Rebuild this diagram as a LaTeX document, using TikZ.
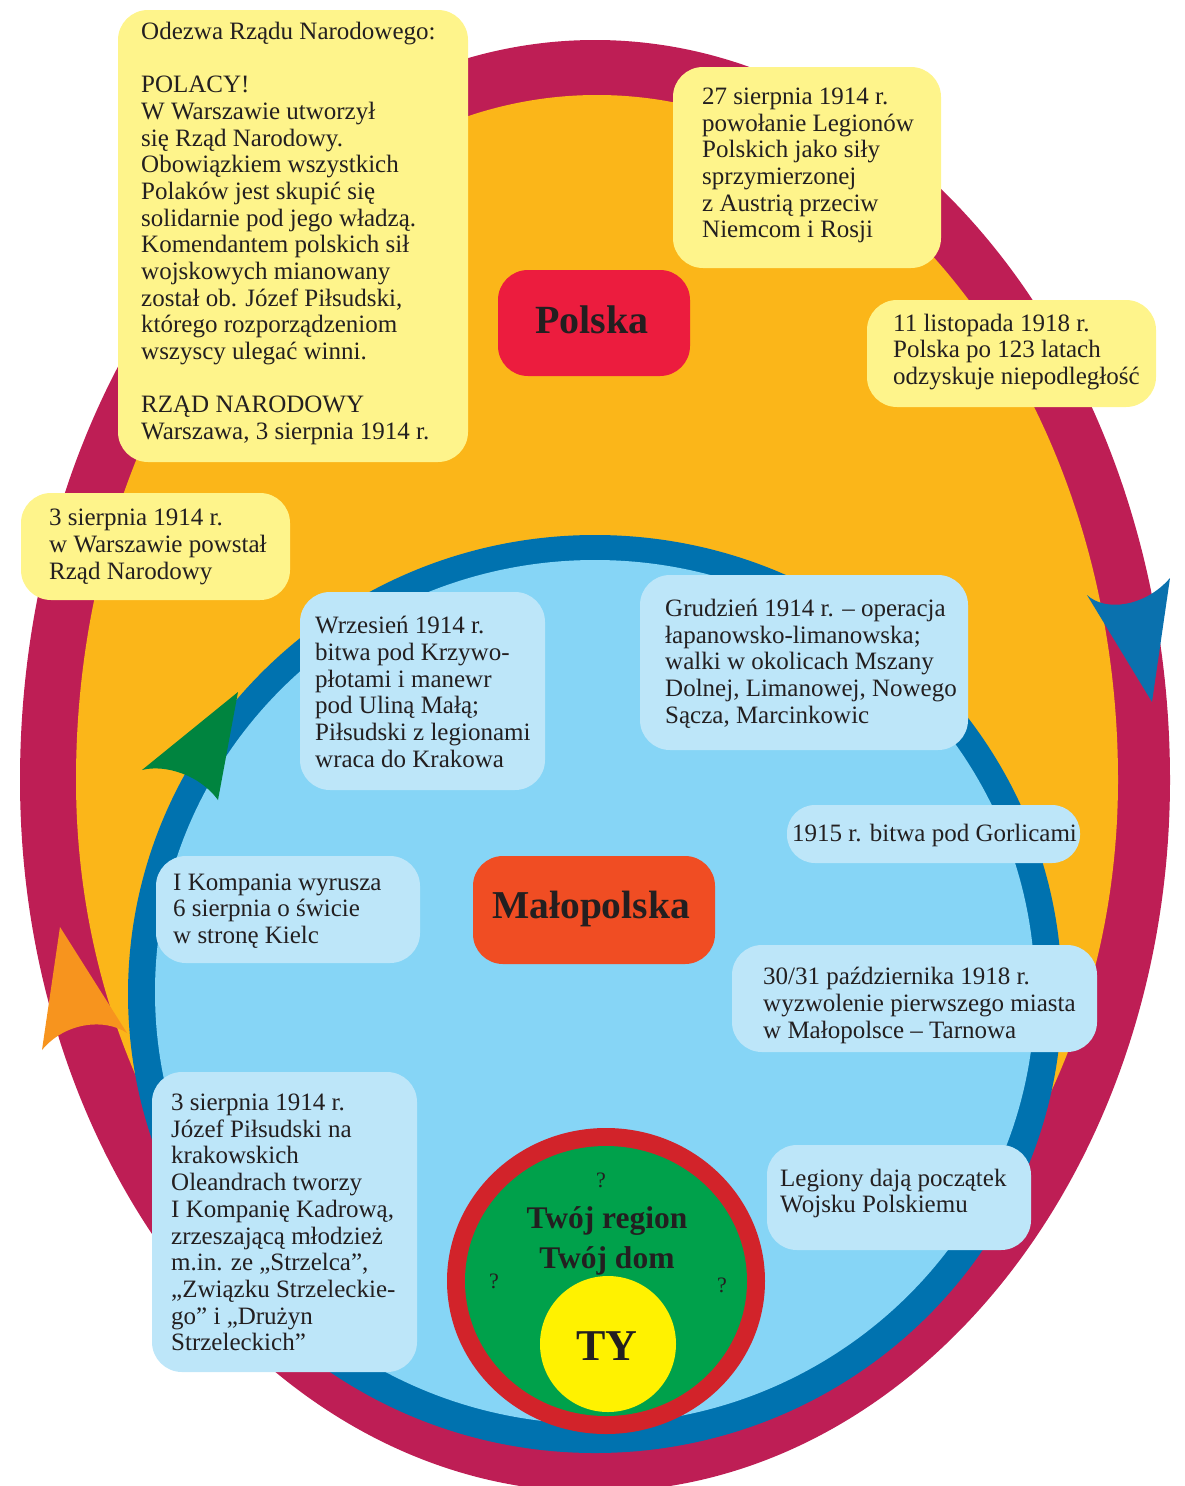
\documentclass[tikz,border=0pt]{standalone}
\usepackage{fontspec}
\setmainfont{Liberation Serif}
\definecolor{crimson}{HTML}{BE1E55}
\definecolor{eggorange}{HTML}{FBB619}
\definecolor{dblue}{HTML}{0072AF}
\definecolor{lblue}{HTML}{86D5F6}
\definecolor{boxblue}{HTML}{BDE6F9}
\definecolor{boxyellow}{HTML}{FEF48B}
\definecolor{polred}{HTML}{EC1C3E}
\definecolor{malored}{HTML}{F04D23}
\definecolor{ringred}{HTML}{D2232A}
\definecolor{ringgreen}{HTML}{00A14B}
\definecolor{tyyellow}{HTML}{FFF200}
\definecolor{arrgreen}{HTML}{00843F}
\definecolor{arrorange}{HTML}{F7941E}
\definecolor{arrblue}{HTML}{0A71AE}
\definecolor{ink}{HTML}{231F20}
\begin{document}
\begin{tikzpicture}[x=1pt,y=-1pt,
  txt/.style={font=\fontsize{25}{26.67}\selectfont, text=ink, align=left, inner sep=0pt, anchor=west},
  ybox/.style={fill=boxyellow, rounded corners=30pt, inner sep=0pt},
  bbox/.style={fill=boxblue, rounded corners=30pt, inner sep=0pt},
  bigtitle/.style={font=\bfseries\fontsize{40}{42}\selectfont, text=ink, inner sep=0pt, anchor=base},
  midtitle/.style={font=\bfseries\fontsize{31.5}{33}\selectfont, text=ink, inner sep=0pt, anchor=base},
  qmark/.style={font=\fontsize{22}{24}\selectfont, text=ink, inner sep=0pt, anchor=base}]
\useasboundingbox (0,0) rectangle (1185,1486);
% egg layers
\fill[crimson] (20,780) arc[start angle=180,end angle=360,x radius=575,y radius=740]
  arc[start angle=0,end angle=180,x radius=575,y radius=712] -- cycle;
\fill[eggorange] (76,780) arc[start angle=180,end angle=360,x radius=521,y radius=685]
  arc[start angle=0,end angle=180,x radius=521,y radius=635] -- cycle;
\fill[dblue] (595,994) ellipse [x radius=467, y radius=459];
\fill[lblue] (595,992) ellipse [x radius=440, y radius=432];
% arrowheads
\fill[arrgreen] (238,692) -- (218,800) .. controls (200,775) and (165,764) .. (142,770) -- cycle;
\fill[arrorange] (60,927) -- (127,1033) .. controls (105,1018) and (65,1022) .. (42,1050) -- cycle;
\fill[arrblue] (1170,578) -- (1152,702) -- (1087,595) .. controls (1105,612) and (1145,607) .. (1170,578) -- cycle;
% inner circles
\fill[ringred] (606,1281) ellipse [x radius=159, y radius=153];
\fill[ringgreen] (606,1281) ellipse [x radius=141, y radius=135];
\node[circle, fill=tyyellow, minimum size=136pt, inner sep=0pt] (ty) at (608,1344) {};
\node[font=\bfseries\fontsize{44}{46}\selectfont, text=ink, inner sep=0pt, anchor=base] (tyT) at (607,1360) {TY};
\node[midtitle] (region) at (607,1228) {Twój region};
\node[midtitle] (dom) at (607,1268) {Twój dom};
\node[qmark] (q1) at (601,1187) {?};
\node[qmark] (q2) at (494,1288) {?};
\node[qmark] (q3) at (722,1292) {?};
% yellow boxes
\node[ybox, minimum width=350pt, minimum height=452pt] (odezwa) at (293,236) {};
\node[txt] (odezwaT) at (141,233.5) {Odezwa Rządu Narodowego:\\ \mbox{}\\ POLACY!\\ W Warszawie utworzył\\ się Rząd Narodowy.\\ Obowiązkiem wszystkich\\ Polaków jest skupić się\\ solidarnie pod jego władzą.\\ Komendantem polskich sił\\ wojskowych mianowany\\ został ob. Józef Piłsudski,\\ którego rozporządzeniom\\ wszyscy ulegać winni.\\ \mbox{}\\ RZĄD NARODOWY\\ Warszawa, 3 sierpnia 1914 r.};
\node[ybox, minimum width=268pt, minimum height=201pt] (legiony) at (807,167.5) {};
\node[txt] (legionyT) at (702,165.5) {27 sierpnia 1914 r.\\ powołanie Legionów\\ Polskich jako siły\\ sprzymierzonej\\ z Austrią przeciw\\ Niemcom i Rosji};
\node[fill=polred, rounded corners=30pt, minimum width=192pt, minimum height=106pt, inner sep=0pt] (polska) at (594,323) {};
\node[bigtitle] (polskaT) at (592,333) {Polska};
\node[ybox, minimum width=289pt, minimum height=107pt] (listopad) at (1011.5,353.5) {};
\node[txt] (listopadT) at (893,352) {11 listopada 1918 r.\\ Polska po 123 latach\\ odzyskuje niepodległość};
\node[ybox, minimum width=269pt, minimum height=107pt] (rzad) at (155.5,546.5) {};
\node[txt] (rzadT) at (49,547) {3 sierpnia 1914 r.\\ w Warszawie powstał\\ Rząd Narodowy};
% blue boxes
\node[bbox, minimum width=245pt, minimum height=198pt] (wrzesien) at (422.5,691) {};
\node[txt] (wrzesienT) at (315,692) {Wrzesień 1914 r.\\ bitwa pod Krzywo-\\ płotami i manewr\\ pod Uliną Małą;\\ Piłsudski z legionami\\ wraca do Krakowa};
\node[bbox, minimum width=328pt, minimum height=175pt] (grudzien) at (804,662.5) {};
\node[txt] (grudzienT) at (665,663.5) {Grudzień 1914 r. – operacja\\ łapanowsko-limanowska;\\ walki w okolicach Mszany\\ Dolnej, Limanowej, Nowego\\ Sącza, Marcinkowic};
\node[bbox, rounded corners=28pt, minimum width=293pt, minimum height=58pt] (gorlice) at (933.5,834) {};
\node[txt] (gorliceT) at (792,835.5) {1915 r. bitwa pod Gorlicami};
\node[fill=malored, rounded corners=30pt, minimum width=242pt, minimum height=108pt, inner sep=0pt] (malopolska) at (594,910) {};
\node[bigtitle, font=\bfseries\fontsize{39.5}{42}\selectfont] (malopolskaT) at (591,918) {Małopolska};
\node[bbox, minimum width=264pt, minimum height=107pt] (kompania) at (288,909.5) {};
\node[txt] (kompaniaT) at (173,911) {I Kompania wyrusza\\ 6 sierpnia o świcie\\ w stronę Kielc};
\node[bbox, minimum width=365pt, minimum height=107pt] (tarnow) at (914.5,998.5) {};
\node[txt] (tarnowT) at (763,1005.5) {30/31 października 1918 r.\\ wyzwolenie pierwszego miasta\\ w Małopolsce – Tarnowa};
\node[bbox, minimum width=265pt, minimum height=300pt] (kadrowa) at (284.5,1222) {};
\node[txt] (kadrowaT) at (171,1222.5) {3 sierpnia 1914 r.\\ Józef Piłsudski na\\ krakowskich\\ Oleandrach tworzy\\ I Kompanię Kadrową,\\ zrzeszającą młodzież\\ m.in. ze „Strzelca”,\\ „Związku Strzeleckie-\\ go” i „Drużyn\\ Strzeleckich”};
\node[bbox, minimum width=264pt, minimum height=105pt] (wojsko) at (899,1197.5) {};
\node[txt] (wojskoT) at (780,1193.5) {Legiony dają początek\\ Wojsku Polskiemu};
\end{tikzpicture}
\end{document}
